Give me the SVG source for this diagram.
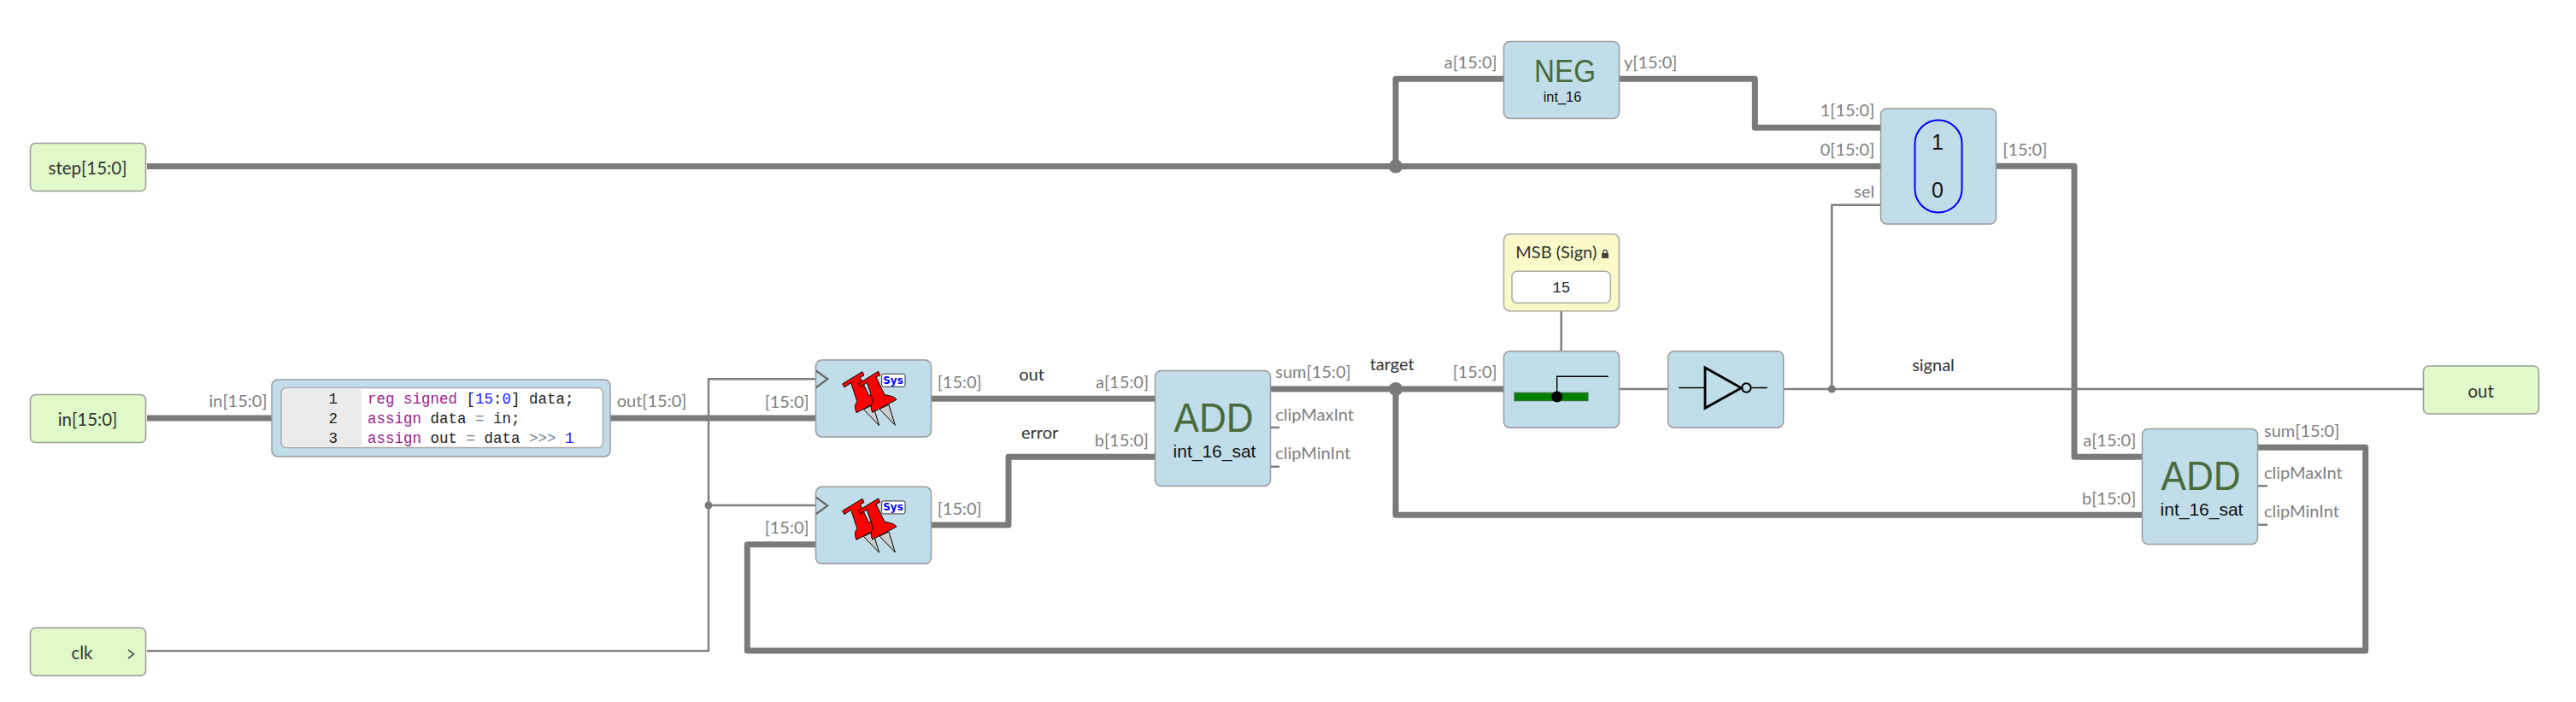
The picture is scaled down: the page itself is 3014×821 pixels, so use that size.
<svg xmlns="http://www.w3.org/2000/svg" width="3014" height="821" viewBox="0 0 3014 821">
<style>
.w{fill:none;stroke:#7a7a7a;stroke-width:7;stroke-linejoin:round}
.t{fill:none;stroke:#7f7f7f;stroke-width:2.5;stroke-linejoin:round}
.b{fill:#c0dde9;stroke:#9a9a9a;stroke-width:1.5}
.p{fill:#e0f9c8;stroke:#9a9a9a;stroke-width:1.5}
.l{font-family:Lato,"Liberation Sans",sans-serif;font-size:20px;fill:#808080}
.e{text-anchor:end}
.n{font-family:Lato,"Liberation Sans",sans-serif;font-size:20px;fill:#333}
.c{font-family:Lato,"Liberation Sans",sans-serif;font-size:20.5px;fill:#333;text-anchor:middle}
.big{font-family:"Liberation Sans",Arial,sans-serif;fill:#4a6a3c;text-anchor:middle}
.sub{font-family:"Liberation Sans",Arial,sans-serif;fill:#111;text-anchor:middle}
.m{font-family:"Liberation Mono",monospace;font-size:17.5px;fill:#222;white-space:pre}
.k{fill:#a0208f}.d{fill:#2020ff}.o{fill:#708090}
.sys{font-family:"DejaVu Sans",sans-serif;font-weight:bold;font-size:12px;fill:#0000ff;text-anchor:middle}
.ic{fill:none;stroke:#000}
.ck{fill:none;stroke:#666;stroke-width:2.2}
</style>
<defs>
<g id="pin">
<polygon points="207,205 240,190 262,262" fill="#ccc" stroke="#000" stroke-width="3"/>
<path d="M133,116 L203,73 L209,86 L195,93 L225,155 Q260,160 267,172 L182,217 Q172,190 185,178 L163,112 L140,128 Z" fill="#ff0000" stroke="#000" stroke-width="3" stroke-linejoin="round"/>
</g>
<g id="pins" transform="translate(960,410) scale(0.3333)">
<use href="#pin" transform="translate(-56,1)"/>
<use href="#pin"/>
<rect x="215" y="82" width="82" height="45" rx="6" fill="#fff" stroke="#333" stroke-width="3"/>
</g>
</defs>
<rect width="3014" height="821" fill="#fff"/>
<g id="connectors">
<path class="w" d="M172,194.5H2200.5"/>
<path class="w" d="M1633,194.5V92.3H1759.5"/>
<path class="w" d="M1894.5,92.3H2053.3V149.3H2200.5"/>
<path class="w" d="M2335.5,194.3H2427V534.3H2507"/>
<path class="w" d="M172,489H318"/>
<path class="w" d="M714,489H954.5"/>
<path class="w" d="M1089,466.3H1351.5"/>
<path class="w" d="M1089,614H1180V534.3H1351.5"/>
<path class="w" d="M1486.5,455H1759.5"/>
<path class="w" d="M1633,455V602.3H2507"/>
<path class="w" d="M2641,523.3H2767.7V761H874.3V636.7H954.5"/>
<path class="t" d="M172,761.3H829V443.3H954.5"/>
<path class="t" d="M829,591H954.5"/>
<path class="t" d="M1486.5,500H1497M1486.5,545.7H1497"/>
<path class="t" d="M2641,568.3H2653M2641,613.7H2653"/>
<path class="t" d="M1826.7,363.5V411"/>
<path class="t" d="M1894.5,455H1952"/>
<path class="t" d="M2086.5,455H2835.5"/>
<path class="t" d="M2143.3,455V239.7H2200.5"/>
<circle cx="1633" cy="194.5" r="8" fill="#7a7a7a"/>
<circle cx="1633" cy="455" r="8" fill="#7a7a7a"/>
<circle cx="829" cy="591" r="4.5" fill="#7a7a7a"/>
<circle cx="2143.3" cy="455" r="4.5" fill="#7a7a7a"/>
</g>
<g id="step"><rect class="p" x="35.5" y="167.5" width="135" height="56" rx="6"/><text class="c" x="102.5" y="203.5">step[15:0]</text></g>
<g id="in"><rect class="p" x="35.5" y="461.5" width="135" height="56" rx="6"/><text class="c" x="102.5" y="497.5">in[15:0]</text></g>
<g id="clk"><rect class="p" x="35.5" y="734.3" width="135" height="56" rx="6"/><text class="c" x="96" y="771">clk</text><path d="M150,760L156.5,765L150,770" fill="none" stroke="#555" stroke-width="1.6"/></g>
<g id="out"><rect class="p" x="2835.5" y="428" width="135" height="56" rx="6"/><text class="c" x="2902.7" y="464.5">out</text></g>
<g id="code">
<rect class="b" x="318" y="444" width="396" height="90" rx="7"/>
<rect x="329" y="453.5" width="376.5" height="70" rx="6" fill="#fff" stroke="#aaa" stroke-width="1.5"/>
<path d="M423,454.5H335Q330,454.5 330,459.5V517.5Q330,522.5 335,522.5H423Z" fill="#ebebeb"/>
<text class="m" x="395" y="471.5" text-anchor="end">1</text>
<text class="m" x="395" y="495" text-anchor="end">2</text>
<text class="m" x="395" y="517.7" text-anchor="end">3</text>
<text class="m" x="430" y="471.5"><tspan class="k">reg signed</tspan> [<tspan class="d">15</tspan>:<tspan class="d">0</tspan>] data;</text>
<text class="m" x="430" y="495"><tspan class="k">assign</tspan> data <tspan class="o">=</tspan> in;</text>
<text class="m" x="430" y="517.7"><tspan class="k">assign</tspan> out <tspan class="o">=</tspan> data <tspan class="o">&gt;&gt;&gt;</tspan> <tspan class="d">1</tspan></text>
<text class="l e" x="312.5" y="476">in[15:0]</text>
<text class="l" x="721.7" y="476">out[15:0]</text>
</g>
<g id="ff1">
<rect class="b" x="954.5" y="421" width="135" height="90" rx="7"/>
<path class="ck" d="M954.5,433.3L968.3,443.3L954.5,453.3"/>
<use href="#pins"/>
<text class="sys" x="1045" y="448.5">Sys</text>
<text class="l e" x="946.7" y="476.5">[15:0]</text>
<text class="l" x="1096.7" y="454.3">[15:0]</text>
</g>
<g id="ff2">
<rect class="b" x="954.5" y="569.3" width="135" height="90" rx="7"/>
<path class="ck" d="M954.5,581.3L968.3,591.3L954.5,601.3"/>
<use href="#pins" y="148.6"/>
<text class="sys" x="1045" y="597">Sys</text>
<text class="l e" x="946.7" y="624.3">[15:0]</text>
<text class="l" x="1096.7" y="601.7">[15:0]</text>
</g>
<g id="add1">
<rect class="b" x="1351.5" y="433.5" width="135" height="135" rx="7"/>
<text class="big" x="1420" y="505" font-size="49" textLength="93" lengthAdjust="spacingAndGlyphs">ADD</text>
<text class="sub" x="1421" y="535" font-size="21">int_16_sat</text>
<text class="l e" x="1344" y="454.3">a[15:0]</text>
<text class="l e" x="1344" y="522.3">b[15:0]</text>
<text class="l" x="1492.3" y="442.3">sum[15:0]</text>
<text class="l" x="1492.3" y="492.3">clipMaxInt</text>
<text class="l" x="1492.3" y="537.3">clipMinInt</text>
</g>
<g id="add2">
<rect class="b" x="2506.5" y="501.5" width="135" height="135" rx="7"/>
<text class="big" x="2575" y="573.3" font-size="49" textLength="93" lengthAdjust="spacingAndGlyphs">ADD</text>
<text class="sub" x="2576" y="603" font-size="21">int_16_sat</text>
<text class="l e" x="2499.3" y="521.7">a[15:0]</text>
<text class="l e" x="2499.3" y="590">b[15:0]</text>
<text class="l" x="2649" y="510.7">sum[15:0]</text>
<text class="l" x="2649" y="560">clipMaxInt</text>
<text class="l" x="2649" y="605">clipMinInt</text>
</g>
<g id="neg">
<rect class="b" x="1759.5" y="48.5" width="135" height="90" rx="7"/>
<text class="big" x="1831" y="96" font-size="36" textLength="72" lengthAdjust="spacingAndGlyphs">NEG</text>
<text class="sub" x="1828" y="119.3" font-size="16.4">int_16</text>
<text class="l e" x="1751.7" y="80">a[15:0]</text>
<text class="l" x="1900" y="80">y[15:0]</text>
</g>
<g id="mux">
<rect class="b" x="2200.5" y="127" width="135" height="135" rx="7"/>
<rect x="2240.5" y="140.5" width="55" height="108" rx="27.5" fill="none" stroke="#0000ff" stroke-width="2"/>
<text class="sub" x="2267" y="175" font-size="25">1</text>
<text class="sub" x="2267" y="231" font-size="25">0</text>
<text class="l e" x="2193.3" y="136">1[15:0]</text>
<text class="l e" x="2193.3" y="181.7">0[15:0]</text>
<text class="l e" x="2193.3" y="230.7">sel</text>
<text class="l" x="2343.3" y="181.7">[15:0]</text>
</g>
<g id="msb">
<rect x="1759.5" y="273.7" width="135" height="90" rx="7" fill="#fafac8" stroke="#aaa" stroke-width="1.5"/>
<text class="n" x="1773.3" y="301.7">MSB (Sign)</text>
<path d="M1874,296H1882V302H1874Z" fill="#444"/>
<path d="M1875.8,296V294.5A2.2,2.2 0 0 1 1880.2,294.5V296" fill="none" stroke="#444" stroke-width="1.3"/>
<rect x="1769" y="317.3" width="115.3" height="37" rx="6" fill="#fff" stroke="#aaa" stroke-width="1.5"/>
<text class="m" x="1826.7" y="342.3" text-anchor="middle">15</text>
</g>
<g id="bitsel">
<rect class="b" x="1759.5" y="410.7" width="135" height="89.5" rx="7"/>
<rect x="1772" y="459.3" width="86" height="9.4" fill="#008000" stroke="#2e6b2e"/>
<path class="ic" stroke-width="1.4" d="M1821.7,464V440.3H1881.7"/>
<circle cx="1821.7" cy="464" r="6.5" fill="#000"/>
<text class="l e" x="1751.7" y="442.3">[15:0]</text>
</g>
<g id="inv">
<rect class="b" x="1951.7" y="410.7" width="135" height="89.5" rx="7"/>
<path class="ic" stroke-width="1.6" d="M1964.3,453.5H1995M2049,453.5H2067.7"/>
<polygon class="ic" stroke-width="2.8" points="1995,430 1995,477.3 2037.3,453.7"/>
<circle class="ic" stroke-width="2" cx="2043.3" cy="453.5" r="5.2"/>
</g>
<g id="wire-labels">
<text class="n" x="1207" y="445" text-anchor="middle">out</text>
<text class="n" x="1195" y="513">error</text>
<text class="n" x="1602.7" y="433">target</text>
<text class="n" x="2262" y="434" text-anchor="middle">signal</text>
</g>
</svg>
